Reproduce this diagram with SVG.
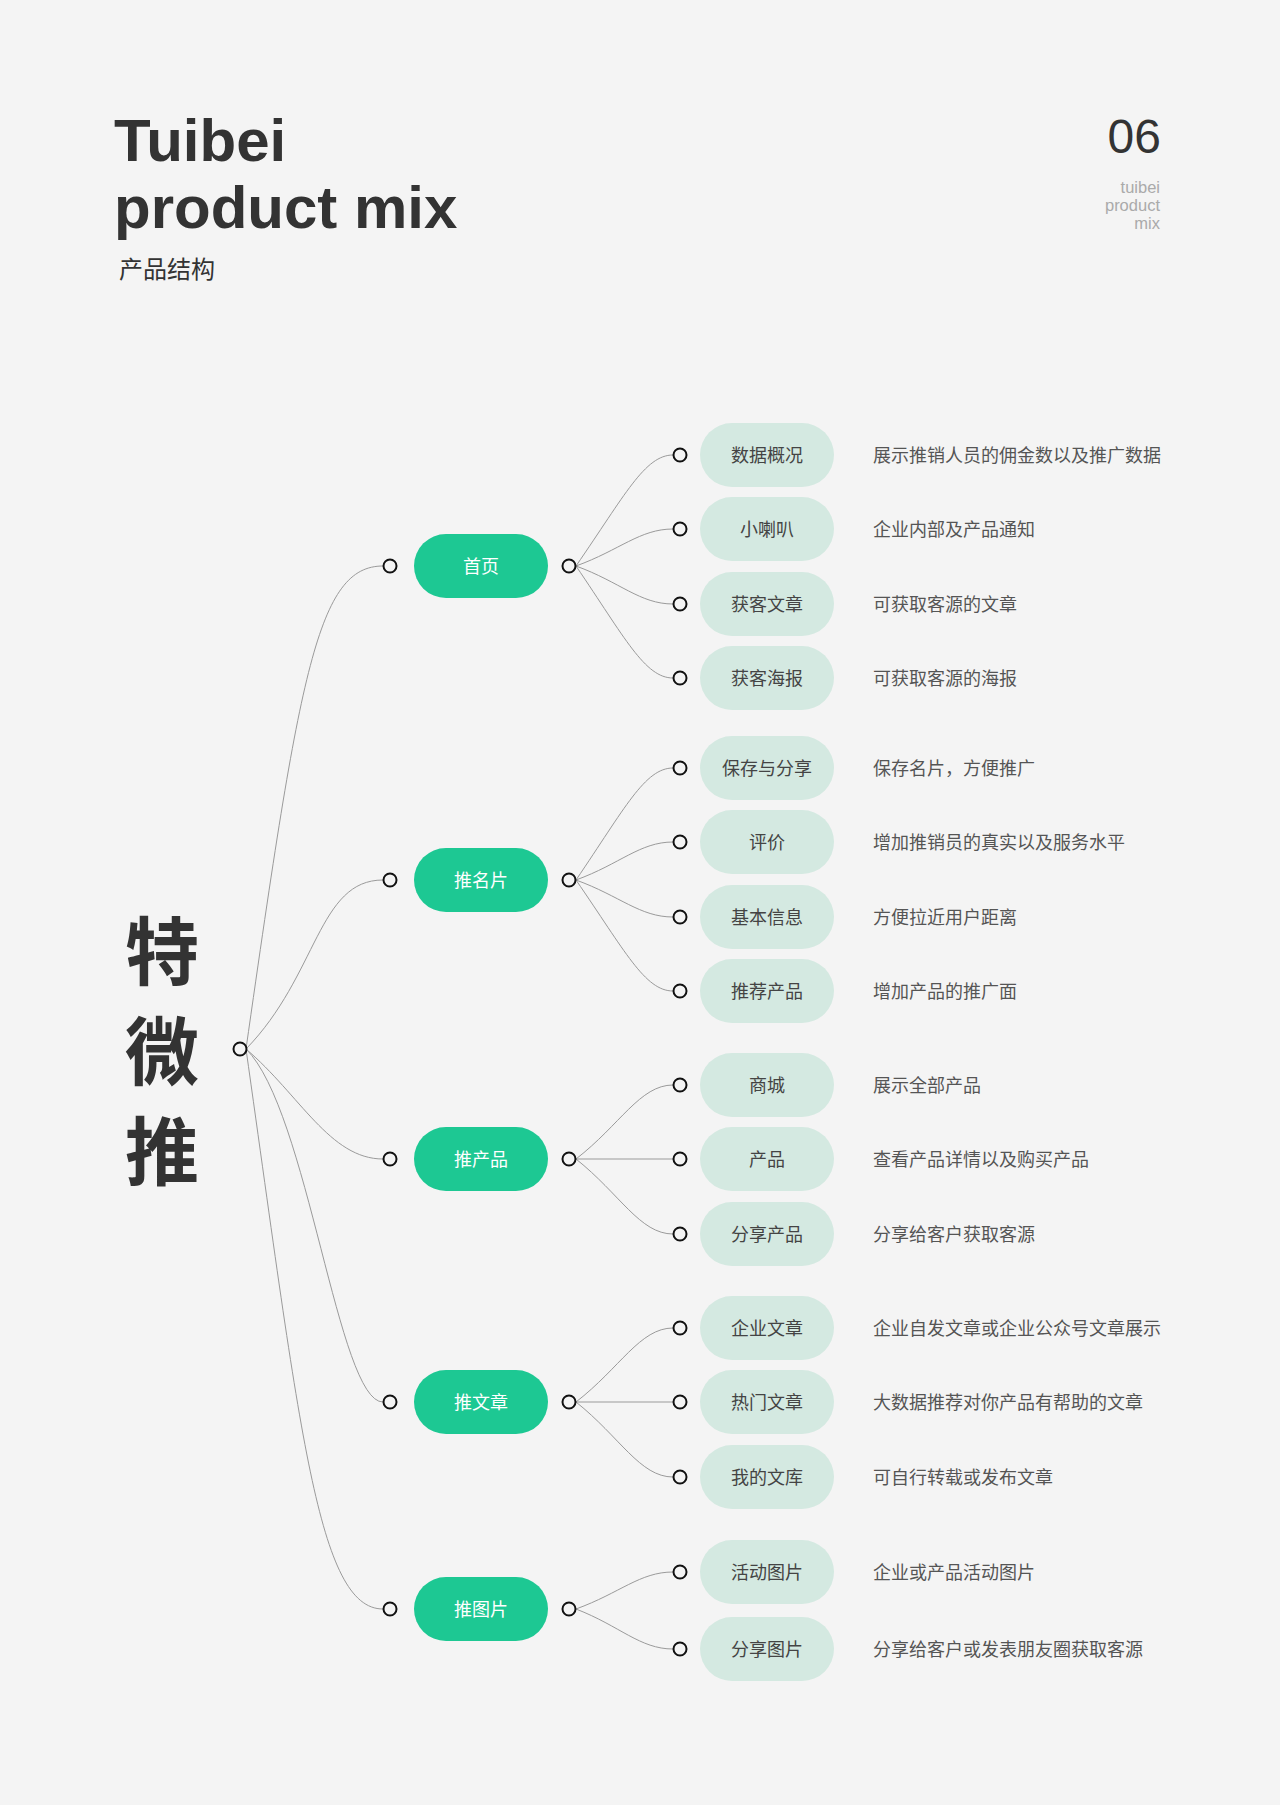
<svg xmlns="http://www.w3.org/2000/svg" width="1280" height="1805" viewBox="0 0 1280 1805">
<style>
.bg{fill:#f4f4f4}
.title{font-family:"Liberation Sans",Arial,sans-serif;font-weight:bold;font-size:60px;fill:#333}
.sub{font-family:"Noto Sans CJK SC",sans-serif;font-size:24px;fill:#333}
.num{font-family:"Liberation Sans",Arial,sans-serif;font-size:48px;fill:#333}
.small{font-family:"Liberation Sans",Arial,sans-serif;font-size:16.5px;fill:#aaa}
.big{font-family:"Noto Sans CJK SC",sans-serif;font-weight:700;font-size:74px;fill:#333;writing-mode:vertical-rl;letter-spacing:26px}
.dot{fill:#f4f4f4;stroke:#111;stroke-width:2}
.l1{fill:#1dc893}
.l2{fill:#d4e9e1}
.t1{font-family:"Noto Sans CJK SC",sans-serif;font-size:18px;fill:#fff;text-anchor:middle}
.t2{font-family:"Noto Sans CJK SC",sans-serif;font-size:18px;fill:#444;text-anchor:middle}
.desc{font-family:"Noto Sans CJK SC",sans-serif;font-size:18px;fill:#555}
.conn path{fill:none;stroke:#9a9a9a;stroke-width:1}
</style>
<rect class="bg" x="0" y="0" width="1280" height="1805"/>

<g id="header">
<text class="title" x="114" y="161">Tuibei</text>
<text class="title" x="114" y="228">product mix</text>
<text class="sub" x="119" y="278">产品结构</text>
<text class="num" x="1161" y="153" text-anchor="end">06</text>
<text class="small" x="1160" y="193" text-anchor="end">tuibei</text>
<text class="small" x="1160" y="211" text-anchor="end">product</text>
<text class="small" x="1160" y="229" text-anchor="end">mix</text>
</g>

<g class="conn" id="connectors">
<path d="M246,1049 C300,670 318,566 383,566"/>
<path d="M246,1049 C318,975 318,880 383,880"/>
<path d="M246,1049 C300,1095 330,1159 383,1159"/>
<path d="M246,1049 C308,1110 338,1402 383,1402"/>
<path d="M246,1049 C300,1430 318,1609 383,1609"/>

<path d="M576,566 C625,495 645,455 673,455"/>
<path d="M576,566 C620,550 640,529 673,529"/>
<path d="M576,566 C620,582 640,604 673,604"/>
<path d="M576,566 C625,638 645,678 673,678"/>

<path d="M576,880 C625,808 645,768 673,768"/>
<path d="M576,880 C620,864 640,842 673,842"/>
<path d="M576,880 C620,896 640,917 673,917"/>
<path d="M576,880 C625,951 645,991 673,991"/>

<path d="M576,1159 C620,1125 640,1085 673,1085"/>
<path d="M576,1159 L673,1159"/>
<path d="M576,1159 C620,1194 640,1234 673,1234"/>

<path d="M576,1402 C620,1368 640,1328 673,1328"/>
<path d="M576,1402 L673,1402"/>
<path d="M576,1402 C620,1437 640,1477 673,1477"/>

<path d="M576,1609 C620,1593 640,1572 673,1572"/>
<path d="M576,1609 C620,1626 640,1649 673,1649"/>
</g>

<g id="root">
<text class="big" x="162" y="914">特微推</text>
<circle class="dot" cx="240" cy="1049" r="6.5"/>
</g>

<g id="n-shouye">
<circle class="dot" cx="390" cy="566" r="6.5"/>
<rect class="l1" x="414" y="534" width="134" height="64" rx="32"/>
<text class="t1" x="481" y="572.5">首页</text>
<circle class="dot" cx="569" cy="566" r="6.5"/>
</g>
<g id="n-mingpian">
<circle class="dot" cx="390" cy="880" r="6.5"/>
<rect class="l1" x="414" y="848" width="134" height="64" rx="32"/>
<text class="t1" x="481" y="886.5">推名片</text>
<circle class="dot" cx="569" cy="880" r="6.5"/>
</g>
<g id="n-chanpin">
<circle class="dot" cx="390" cy="1159" r="6.5"/>
<rect class="l1" x="414" y="1127" width="134" height="64" rx="32"/>
<text class="t1" x="481" y="1165.5">推产品</text>
<circle class="dot" cx="569" cy="1159" r="6.5"/>
</g>
<g id="n-wenzhang">
<circle class="dot" cx="390" cy="1402" r="6.5"/>
<rect class="l1" x="414" y="1370" width="134" height="64" rx="32"/>
<text class="t1" x="481" y="1408.5">推文章</text>
<circle class="dot" cx="569" cy="1402" r="6.5"/>
</g>
<g id="n-tupian">
<circle class="dot" cx="390" cy="1609" r="6.5"/>
<rect class="l1" x="414" y="1577" width="134" height="64" rx="32"/>
<text class="t1" x="481" y="1615.5">推图片</text>
<circle class="dot" cx="569" cy="1609" r="6.5"/>
</g>

<g id="c1"><circle class="dot" cx="680" cy="455" r="6.5"/><rect class="l2" x="700" y="423" width="134" height="64" rx="32"/><text class="t2" x="767" y="461.5">数据概况</text><text class="desc" x="873" y="461.5">展示推销人员的佣金数以及推广数据</text></g>
<g id="c2"><circle class="dot" cx="680" cy="529" r="6.5"/><rect class="l2" x="700" y="497" width="134" height="64" rx="32"/><text class="t2" x="767" y="535.5">小喇叭</text><text class="desc" x="873" y="535.5">企业内部及产品通知</text></g>
<g id="c3"><circle class="dot" cx="680" cy="604" r="6.5"/><rect class="l2" x="700" y="572" width="134" height="64" rx="32"/><text class="t2" x="767" y="610.5">获客文章</text><text class="desc" x="873" y="610.5">可获取客源的文章</text></g>
<g id="c4"><circle class="dot" cx="680" cy="678" r="6.5"/><rect class="l2" x="700" y="646" width="134" height="64" rx="32"/><text class="t2" x="767" y="684.5">获客海报</text><text class="desc" x="873" y="684.5">可获取客源的海报</text></g>

<g id="c5"><circle class="dot" cx="680" cy="768" r="6.5"/><rect class="l2" x="700" y="736" width="134" height="64" rx="32"/><text class="t2" x="767" y="774.5">保存与分享</text><text class="desc" x="873" y="774.5">保存名片，方便推广</text></g>
<g id="c6"><circle class="dot" cx="680" cy="842" r="6.5"/><rect class="l2" x="700" y="810" width="134" height="64" rx="32"/><text class="t2" x="767" y="848.5">评价</text><text class="desc" x="873" y="848.5">增加推销员的真实以及服务水平</text></g>
<g id="c7"><circle class="dot" cx="680" cy="917" r="6.5"/><rect class="l2" x="700" y="885" width="134" height="64" rx="32"/><text class="t2" x="767" y="923.5">基本信息</text><text class="desc" x="873" y="923.5">方便拉近用户距离</text></g>
<g id="c8"><circle class="dot" cx="680" cy="991" r="6.5"/><rect class="l2" x="700" y="959" width="134" height="64" rx="32"/><text class="t2" x="767" y="997.5">推荐产品</text><text class="desc" x="873" y="997.5">增加产品的推广面</text></g>

<g id="c9"><circle class="dot" cx="680" cy="1085" r="6.5"/><rect class="l2" x="700" y="1053" width="134" height="64" rx="32"/><text class="t2" x="767" y="1091.5">商城</text><text class="desc" x="873" y="1091.5">展示全部产品</text></g>
<g id="c10"><circle class="dot" cx="680" cy="1159" r="6.5"/><rect class="l2" x="700" y="1127" width="134" height="64" rx="32"/><text class="t2" x="767" y="1165.5">产品</text><text class="desc" x="873" y="1165.5">查看产品详情以及购买产品</text></g>
<g id="c11"><circle class="dot" cx="680" cy="1234" r="6.5"/><rect class="l2" x="700" y="1202" width="134" height="64" rx="32"/><text class="t2" x="767" y="1240.5">分享产品</text><text class="desc" x="873" y="1240.5">分享给客户获取客源</text></g>

<g id="c12"><circle class="dot" cx="680" cy="1328" r="6.5"/><rect class="l2" x="700" y="1296" width="134" height="64" rx="32"/><text class="t2" x="767" y="1334.5">企业文章</text><text class="desc" x="873" y="1334.5">企业自发文章或企业公众号文章展示</text></g>
<g id="c13"><circle class="dot" cx="680" cy="1402" r="6.5"/><rect class="l2" x="700" y="1370" width="134" height="64" rx="32"/><text class="t2" x="767" y="1408.5">热门文章</text><text class="desc" x="873" y="1408.5">大数据推荐对你产品有帮助的文章</text></g>
<g id="c14"><circle class="dot" cx="680" cy="1477" r="6.5"/><rect class="l2" x="700" y="1445" width="134" height="64" rx="32"/><text class="t2" x="767" y="1483.5">我的文库</text><text class="desc" x="873" y="1483.5">可自行转载或发布文章</text></g>

<g id="c15"><circle class="dot" cx="680" cy="1572" r="6.5"/><rect class="l2" x="700" y="1540" width="134" height="64" rx="32"/><text class="t2" x="767" y="1578.5">活动图片</text><text class="desc" x="873" y="1578.5">企业或产品活动图片</text></g>
<g id="c16"><circle class="dot" cx="680" cy="1649" r="6.5"/><rect class="l2" x="700" y="1617" width="134" height="64" rx="32"/><text class="t2" x="767" y="1655.5">分享图片</text><text class="desc" x="873" y="1655.5">分享给客户或发表朋友圈获取客源</text></g>
</svg>
